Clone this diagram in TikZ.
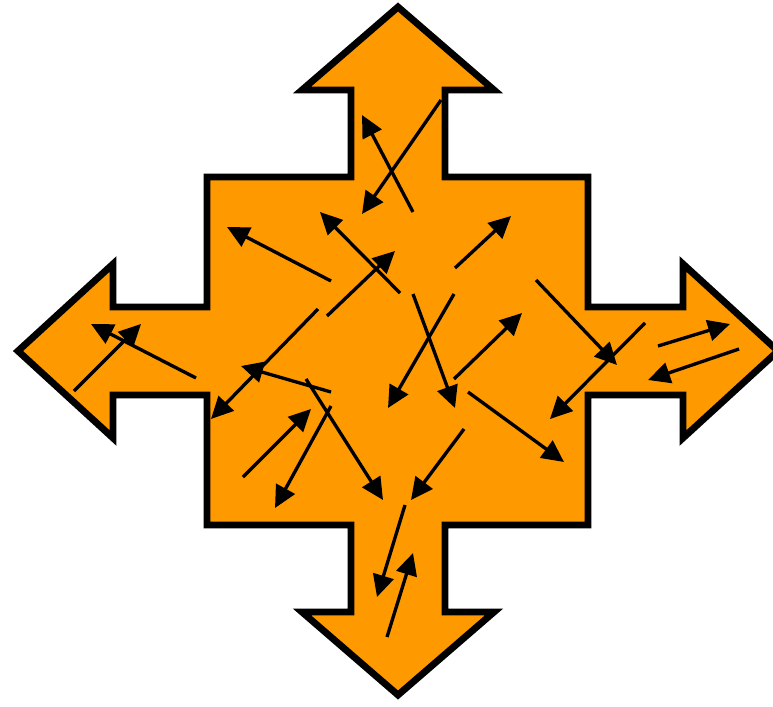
\documentclass[tikz,border=0pt]{standalone}
\usetikzlibrary{arrows.meta}
\definecolor{crossOrange}{HTML}{FF9900}
\begin{document}
\begin{tikzpicture}[
  x=0.02cm,y=-0.02cm,
  crossshape/.style={draw=black,fill=crossOrange,line width=3.9pt,line join=miter},
  motion/.style={draw=black,line width=1.9pt,-{Triangle[length=0.44cm,width=0.42cm]}}
]
\useasboundingbox (0,0) rectangle (773,706);
% four-way arrow outline
\path[crossshape] (398,7) -- (494,90) -- (445,90) -- (445,177) -- (588,177)
  -- (588,307) -- (683,307) -- (683,264) -- (778,351) -- (683,438) -- (683,395)
  -- (588,395) -- (588,525) -- (445,525) -- (445,612) -- (494,612) -- (398,695)
  -- (302,612) -- (351,612) -- (351,525) -- (207,525) -- (207,395) -- (113,395)
  -- (113,438) -- (18,351) -- (113,264) -- (113,307) -- (207,307) -- (207,177)
  -- (351,177) -- (351,90) -- (302,90) -- cycle;
% little arrows (tail / tip)
\foreach \ax/\ay/\bx/\by in {
  413/212/362/115, 441/100/362/214, 331/281/227/227, 400/293/320/212,
  327/316/395/251, 455/268/511/216, 536/280/617/365, 645/323/550/419,
  454/294/388/408, 413/294/455/408, 454/379/522/313, 468/392/564/462,
  318/309/211/419, 331/392/241/366, 306/379/383/500, 331/406/275/508,
  243/477/311/409, 196/378/91/324, 74/391/141/324, 464/429/411/500,
  405/505/377/597, 387/637/413/553, 658/346/730/324, 739/349/648/380}
  \draw[motion] (\ax,\ay) -- (\bx,\by);
\end{tikzpicture}
\end{document}
